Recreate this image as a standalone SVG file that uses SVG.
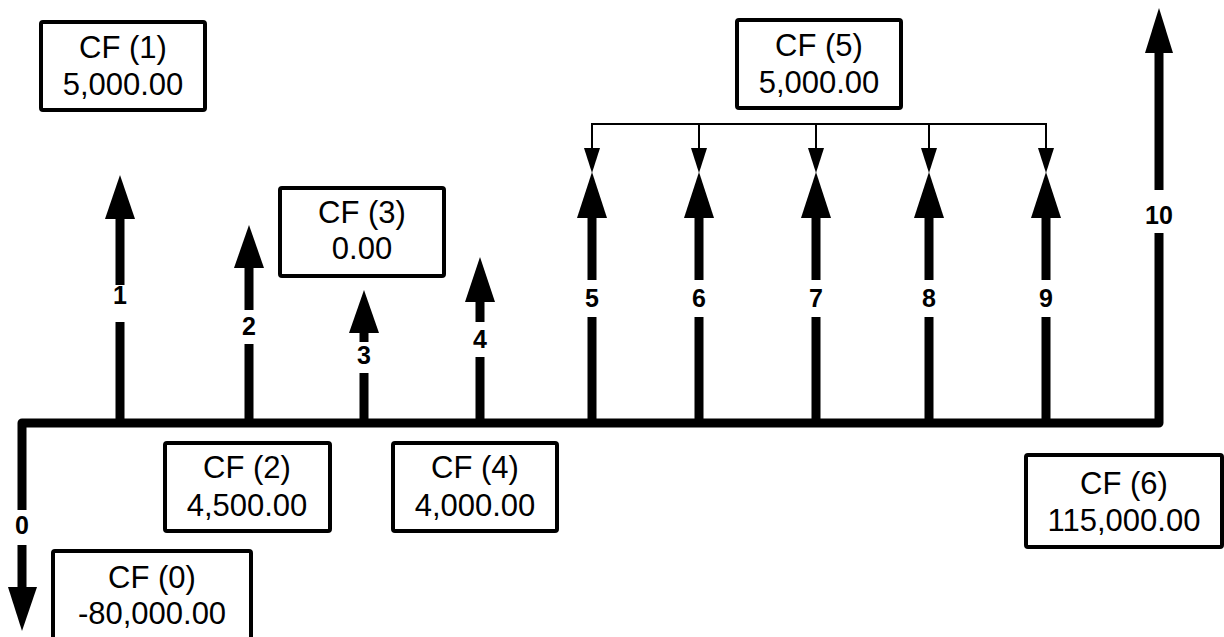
<svg xmlns="http://www.w3.org/2000/svg" width="1224" height="637" viewBox="0 0 1224 637">
<style>
.box{fill:#fff;stroke:#000;stroke-width:4;stroke-linejoin:round}
.bt{font-family:"Liberation Sans",Arial,sans-serif;font-size:31px;text-anchor:middle;fill:#000}
.lb{font-family:"Liberation Sans",Arial,sans-serif;font-size:25px;font-weight:bold;text-anchor:middle;fill:#000}
.thick{stroke:#000;stroke-width:9;fill:none;stroke-linejoin:round}
.thin{stroke:#000;stroke-width:2;fill:none}
.gap{fill:#fff}
</style>
<rect width="1224" height="637" fill="#fff"/>
<g id="connectors">
  <path class="thick" d="M22,588 L22,423 L1159,423 L1159,52"/>
  <path class="thick" d="M120,423 V218 M249,423 V267 M364,423 V332 M480,423 V301 M592,423 V217 M699,423 V217 M816,423 V217 M929,423 V217 M1046,423 V217"/>
  <g fill="#000">
    <polygon points="8,587 37,587 22,631"/>
    <polygon points="105,219 135,219 120,175"/>
    <polygon points="234,268 264,268 249,225"/>
    <polygon points="349,333 379,333 364,290"/>
    <polygon points="465,302 495,302 480,257"/>
    <polygon points="577,218 607,218 592,172"/>
    <polygon points="684,218 714,218 699,172"/>
    <polygon points="801,218 831,218 816,172"/>
    <polygon points="914,218 944,218 929,172"/>
    <polygon points="1031,218 1061,218 1046,172"/>
    <polygon points="1145,53 1173,53 1159,8"/>
  </g>
  <path class="thin" d="M592,149 V124 H1046 V149 M699,124 V149 M816,124 V149 M929,124 V149"/>
  <g fill="#000">
    <polygon points="584,148 600,148 592,173"/>
    <polygon points="691,148 707,148 699,173"/>
    <polygon points="808,148 824,148 816,173"/>
    <polygon points="921,148 937,148 929,173"/>
    <polygon points="1038,148 1054,148 1046,173"/>
  </g>
  <g class="gap">
    <rect x="10" y="510" width="24" height="35"/>
    <rect x="108" y="285" width="24" height="37"/>
    <rect x="237" y="310" width="24" height="34"/>
    <rect x="352" y="342" width="24" height="31"/>
    <rect x="468" y="322" width="24" height="35"/>
    <rect x="580" y="280" width="24" height="37"/>
    <rect x="687" y="280" width="24" height="37"/>
    <rect x="804" y="280" width="24" height="37"/>
    <rect x="917" y="280" width="24" height="37"/>
    <rect x="1034" y="280" width="24" height="37"/>
    <rect x="1141" y="190" width="36" height="43"/>
  </g>
  <text class="lb" x="22" y="534">0</text>
  <text class="lb" x="120" y="304">1</text>
  <text class="lb" x="249" y="335">2</text>
  <text class="lb" x="364" y="364">3</text>
  <text class="lb" x="480" y="348">4</text>
  <text class="lb" x="592" y="307">5</text>
  <text class="lb" x="699" y="307">6</text>
  <text class="lb" x="816" y="307">7</text>
  <text class="lb" x="929" y="307">8</text>
  <text class="lb" x="1046" y="307">9</text>
  <text class="lb" x="1159" y="224">10</text>
</g>
<g id="cf1">
  <rect class="box" x="41" y="22" width="164" height="88" rx="2"/>
  <text class="bt" x="123" y="58">CF (1)</text>
  <text class="bt" x="123" y="95">5,000.00</text>
</g>
<g id="cf5">
  <rect class="box" x="737" y="20" width="164" height="88" rx="2"/>
  <text class="bt" x="819" y="56">CF (5)</text>
  <text class="bt" x="819" y="93">5,000.00</text>
</g>
<g id="cf3">
  <rect class="box" x="280" y="188" width="164" height="88" rx="2"/>
  <text class="bt" x="362" y="223">CF (3)</text>
  <text class="bt" x="362" y="259">0.00</text>
</g>
<g id="cf2">
  <rect class="box" x="165" y="443" width="165" height="88" rx="2"/>
  <text class="bt" x="247" y="478">CF (2)</text>
  <text class="bt" x="247" y="516">4,500.00</text>
</g>
<g id="cf4">
  <rect class="box" x="393" y="443" width="164" height="88" rx="2"/>
  <text class="bt" x="475" y="478">CF (4)</text>
  <text class="bt" x="475" y="516">4,000.00</text>
</g>
<g id="cf6">
  <rect class="box" x="1026" y="455" width="196" height="92" rx="2"/>
  <text class="bt" x="1124" y="494">CF (6)</text>
  <text class="bt" x="1124" y="531">115,000.00</text>
</g>
<g id="cf0">
  <rect class="box" x="53" y="551" width="198" height="92" rx="2"/>
  <text class="bt" x="152" y="588">CF (0)</text>
  <text class="bt" x="152" y="624">-80,000.00</text>
</g>
</svg>
